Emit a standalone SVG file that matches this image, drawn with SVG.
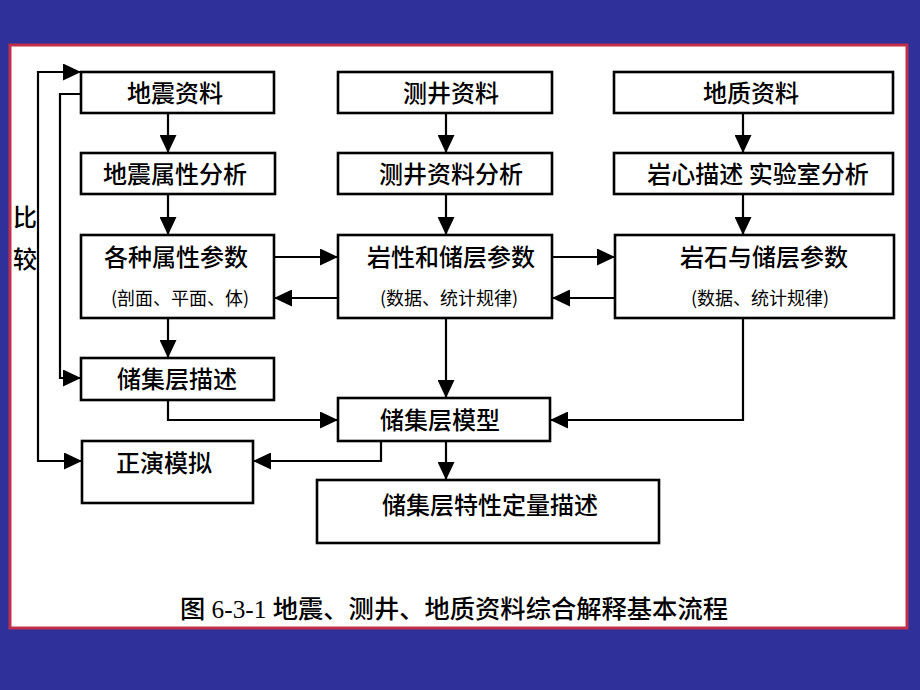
<svg xmlns="http://www.w3.org/2000/svg" width="920" height="690" viewBox="0 0 920 690">
<defs>
<style>
.box{fill:#fff;stroke:#000;stroke-width:2.6}
.t{font-family:"Noto Sans CJK SC","Noto Sans",sans-serif;font-size:24px;font-weight:500;fill:#000;text-anchor:middle}
.s{font-family:"Noto Sans CJK SC","Noto Sans",sans-serif;font-size:18px;fill:#000;text-anchor:middle}
.c{fill:none;stroke:#000;stroke-width:2.2}
</style>
<marker id="ah" viewBox="0 0 18 17" refX="18" refY="8.5" markerWidth="18" markerHeight="17" markerUnits="userSpaceOnUse" orient="auto">
<path d="M0,0 L18,8.5 L0,17 z" fill="#000"/>
</marker>
</defs>
<rect x="0" y="0" width="920" height="690" fill="#30309a"/>
<rect x="10" y="45" width="897" height="583" fill="#fff" stroke="#c0304a" stroke-width="3"/>

<g id="connectors">
<path class="c" d="M168,113 V153" marker-end="url(#ah)"/>
<path class="c" d="M168,194 V235" marker-end="url(#ah)"/>
<path class="c" d="M446,113 V153" marker-end="url(#ah)"/>
<path class="c" d="M446,194 V235" marker-end="url(#ah)"/>
<path class="c" d="M743,113 V153" marker-end="url(#ah)"/>
<path class="c" d="M743,194 V235" marker-end="url(#ah)"/>
<path class="c" d="M274,257 H338" marker-end="url(#ah)"/>
<path class="c" d="M338,298 H274" marker-end="url(#ah)"/>
<path class="c" d="M552,257 H615" marker-end="url(#ah)"/>
<path class="c" d="M615,298 H552" marker-end="url(#ah)"/>
<path class="c" d="M168,318 V358" marker-end="url(#ah)"/>
<path class="c" d="M446,318 V398" marker-end="url(#ah)"/>
<path class="c" d="M743,318 V420 H550" marker-end="url(#ah)"/>
<path class="c" d="M168,400 V420 H338" marker-end="url(#ah)"/>
<path class="c" d="M381,441 V461 H253" marker-end="url(#ah)"/>
<path class="c" d="M446,441 V480" marker-end="url(#ah)"/>
<path class="c" d="M82,461 H38 V72 H81" marker-end="url(#ah)"/>
<path class="c" d="M38,461 H82" marker-end="url(#ah)"/>
<path class="c" d="M81,94 H60 V378 H81" marker-end="url(#ah)"/>
</g>

<g id="n1"><rect class="box" x="81" y="72" width="193" height="41"/><text class="t" x="175" y="102">地震资料</text></g>
<g id="n2"><rect class="box" x="81" y="153" width="194" height="41"/><text class="t" x="175" y="183">地震属性分析</text></g>
<g id="n3"><rect class="box" x="338" y="72" width="214" height="41"/><text class="t" x="451" y="102">测井资料</text></g>
<g id="n4"><rect class="box" x="338" y="153" width="214" height="41"/><text class="t" x="451" y="183">测井资料分析</text></g>
<g id="n5"><rect class="box" x="614" y="72" width="279" height="41"/><text class="t" x="751" y="102">地质资料</text></g>
<g id="n6"><rect class="box" x="614" y="153" width="279" height="41"/><text class="t" x="758" y="183">岩心描述 实验室分析</text></g>
<g id="n7"><rect class="box" x="81" y="235" width="193" height="83"/><text class="t" x="176" y="266">各种属性参数</text><text class="s" x="180" y="305">(剖面、平面、体)</text></g>
<g id="n8"><rect class="box" x="338" y="235" width="214" height="83"/><text class="t" x="451" y="266">岩性和储层参数</text><text class="s" x="449" y="305">(数据、统计规律)</text></g>
<g id="n9"><rect class="box" x="615" y="235" width="279" height="83"/><text class="t" x="764" y="266">岩石与储层参数</text><text class="s" x="760" y="305">(数据、统计规律)</text></g>
<g id="n10"><rect class="box" x="81" y="358" width="193" height="42"/><text class="t" x="177" y="388">储集层描述</text></g>
<g id="n11"><rect class="box" x="338" y="398" width="212" height="43"/><text class="t" x="440" y="429">储集层模型</text></g>
<g id="n12"><rect class="box" x="82" y="441" width="171" height="62"/><text class="t" x="164" y="472">正演模拟</text></g>
<g id="n13"><rect class="box" x="317" y="480" width="342" height="63"/><text class="t" x="490" y="514">储集层特性定量描述</text></g>

<g id="label-compare">
<text class="t" x="25" y="226" font-size="22">比</text>
<text class="t" x="25" y="268" font-size="22">较</text>
</g>

<text x="454" y="618" font-family="Liberation Serif,'Noto Sans CJK SC',serif" font-size="25" font-weight="500" text-anchor="middle" textLength="548" lengthAdjust="spacingAndGlyphs">图 6-3-1  地震、测井、地质资料综合解释基本流程</text>
</svg>
